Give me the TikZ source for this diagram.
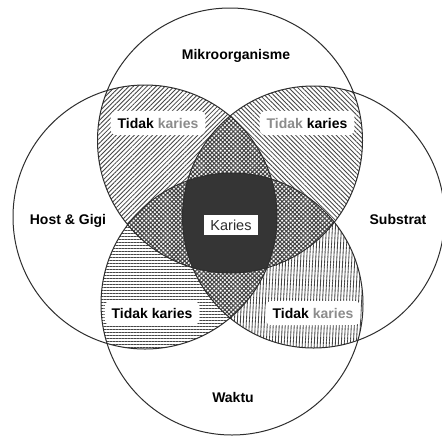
\documentclass[tikz,border=0pt]{standalone}
\usepackage{fontspec}
\setmainfont{Liberation Sans}
\usetikzlibrary{patterns.meta}
\definecolor{ink}{HTML}{2E2E2E}
\definecolor{hatch}{HTML}{444444}
\definecolor{fade}{HTML}{8C8C8C}
\definecolor{core}{HTML}{353535}
\tikzset{
  vring/.style={draw=ink, line width=1pt},
  lbl/.style={font=\fontsize{14}{16}\selectfont\bfseries, text=black, inner sep=0pt},
  tag/.style={lbl, fill=white, rounded corners=6pt, inner xsep=7pt, inner ysep=7pt},
  neLines/.style={pattern={Lines[angle=45,distance=3.2pt,line width=0.85pt]}, pattern color=hatch},
  nwLines/.style={pattern={Lines[angle=-45,distance=3.2pt,line width=0.85pt]}, pattern color=hatch},
  hLines/.style={pattern={Lines[angle=0,distance=3pt,line width=0.85pt]}, pattern color=hatch},
  vLines/.style={pattern={Lines[angle=87,distance=3pt,line width=0.85pt]}, pattern color=hatch},
  dotGrid/.style={pattern={Hatch[angle=45,distance=3pt,line width=1.1pt]}, pattern color=hatch},
}
\newcommand{\cT}{(230,140.5) circle[radius=132.5pt]}
\newcommand{\cL}{(145,217) circle[radius=132pt]}
\newcommand{\cR}{(313.5,217) circle[radius=131pt]}
\newcommand{\cB}{(232,304) circle[radius=131pt]}
\begin{document}
\begin{tikzpicture}[x=1pt,y=-1pt]
  \useasboundingbox (0,0) rectangle (442,437);
  \fill[white] (0,0) rectangle (442,437);
  % pair lenses
  \begin{scope}\clip \cT; \fill[neLines] \cL; \end{scope}
  \begin{scope}\clip \cT; \fill[nwLines] \cR; \end{scope}
  \begin{scope}\clip \cL; \fill[hLines] \cB; \end{scope}
  \begin{scope}\clip \cR; \fill[vLines] \cB; \end{scope}
  % triple regions
  \begin{scope}\clip \cT; \clip \cL; \fill[white] \cR; \fill[dotGrid] \cR; \end{scope}
  \begin{scope}\clip \cT; \clip \cL; \fill[white] \cB; \fill[dotGrid] \cB; \end{scope}
  \begin{scope}\clip \cT; \clip \cR; \fill[white] \cB; \fill[dotGrid] \cB; \end{scope}
  \begin{scope}\clip \cL; \clip \cR; \fill[white] \cB; \fill[dotGrid] \cB; \end{scope}
  % all four
  \begin{scope}\clip \cT; \clip \cL; \clip \cR; \fill[core] \cB; \end{scope}
  % outlines
  \draw[vring] \cT;
  \draw[vring] \cL;
  \draw[vring] \cR;
  \draw[vring] \cB;
  % labels
  \node[lbl] (mikro) at (236,56) {Mikroorganisme};
  \node[lbl] (host) at (68,221) {Host \& Gigi};
  \node[lbl] (sub) at (398,219) {Substrat};
  \node[lbl] (waktu) at (233,397) {Waktu};
  \node[lbl, fill=white, inner xsep=6pt, inner ysep=5pt, font=\fontsize{14.5}{16}\selectfont, text=ink] (karies) at (231,225) {Karies};
  \node[tag] (tkul) at (158,123) {Tidak \textcolor{fade}{karies}};
  \node[tag] (tkur) at (307,123) {\textcolor{fade}{Tidak} karies};
  \node[tag] (tkll) at (152,313) {Tidak karies};
  \node[tag] (tklr) at (313,313) {Tidak \textcolor{fade}{karies}};
\end{tikzpicture}
\end{document}
